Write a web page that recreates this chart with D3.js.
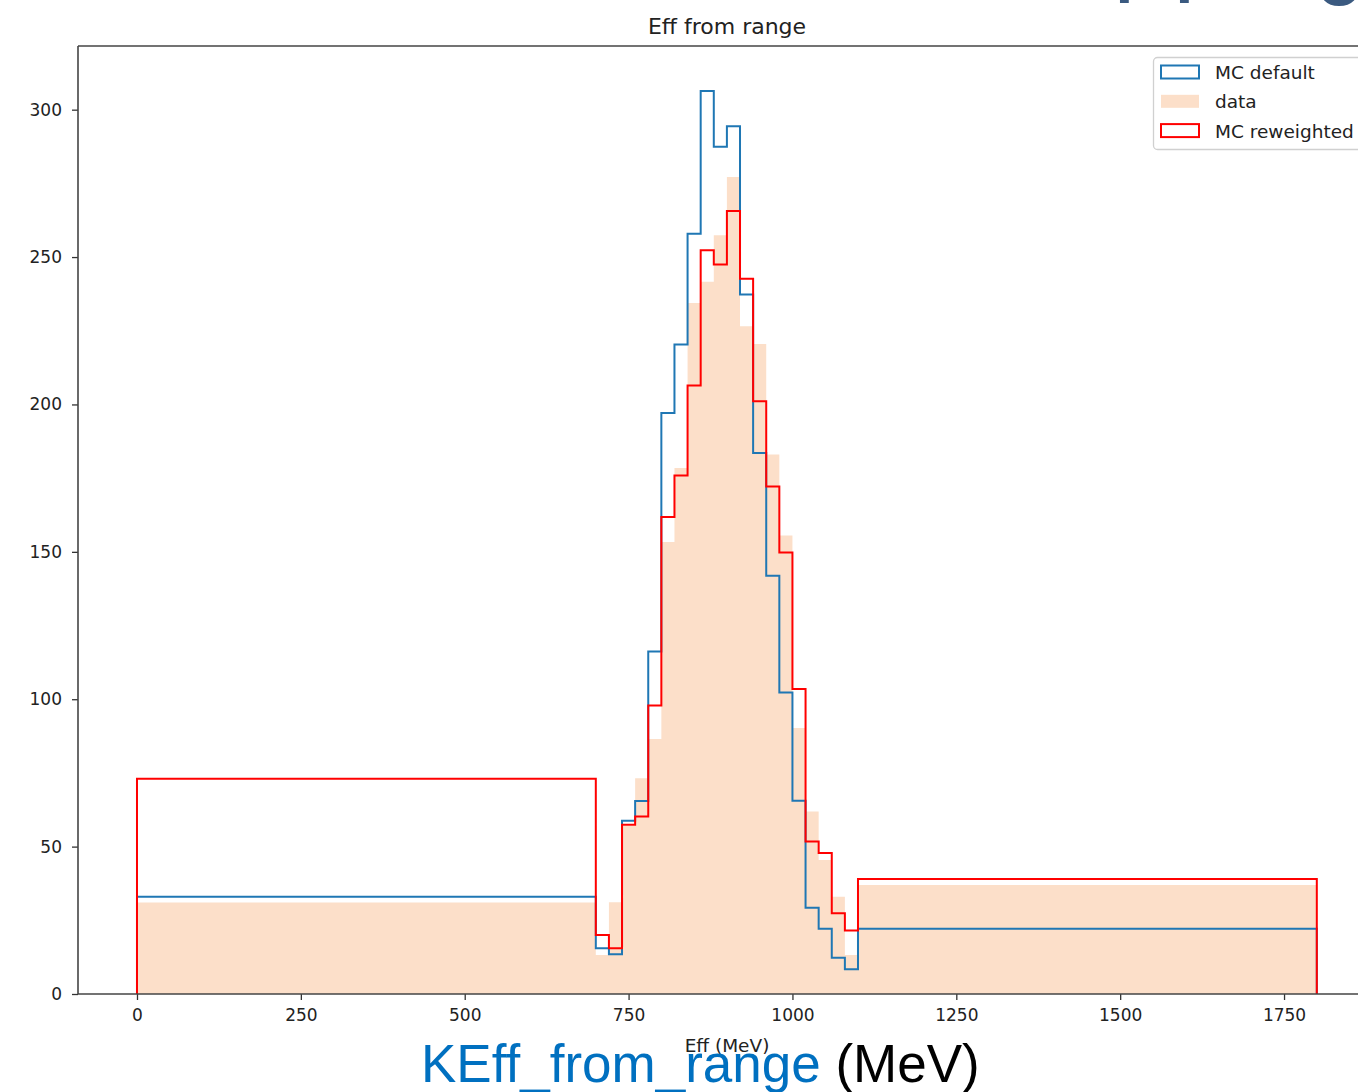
<!DOCTYPE html>
<html>
<head>
<meta charset="utf-8">
<script src="https://cdn.jsdelivr.net/npm/d3@7"></script>
<style>
  html, body { margin: 0; padding: 0; background: #fff; overflow: hidden; }
  svg { display: block; }
</style>
</head>
<body>
<svg id="chart" width="1358" height="1092"></svg>
<script>
// ---- data ----
const binEdges = [0, 700, 720, 740, 760, 780, 800, 820, 840, 860, 880, 900, 920, 940, 960, 980, 1000, 1020, 1040, 1060, 1080, 1100, 1800];
const mcDefault = [33, 15.5, 13.5, 58.8, 65.5, 116.2, 197.1, 220.3, 257.9, 306.3, 287.4, 294.4, 237.3, 183.5, 141.9, 102.3, 65.6, 29.3, 22.1, 12.3, 8.4, 22.1];
const dataCounts = [31, 13.2, 31.1, 57, 73.2, 86.5, 153.3, 178.4, 234.4, 241.6, 257.4, 277.2, 226.5, 220.5, 183, 155.5, 90.2, 61.9, 45.5, 33, 13.2, 37];
const mcReweighted = [73, 20, 15.5, 57.4, 60.2, 97.9, 161.8, 175.9, 206.4, 252.3, 247.5, 265.6, 242.6, 201.1, 172.2, 149.8, 103.5, 51.7, 47.8, 27.4, 21.5, 39];
const xTicks = [0, 250, 500, 750, 1000, 1250, 1500, 1750];
const yTicks = [0, 50, 100, 150, 200, 250, 300];
const legendLabels = ["MC default", "data", "MC reweighted"];
const titleText = "Eff from range";
const xLabelText = "Eff (MeV)";
const overlayBlue = "KEff_from_range";
const overlayBlack = " (MeV)";

(function () {
  const svg = d3.select("#chart");
  const plotLeft = 78, plotTop = 46, plotBottom = 994;
  const xScale = d3.scaleLinear().domain([-90, 1890]).range([plotLeft, plotLeft + 1297.8]);
  const yScale = d3.scaleLinear().domain([0, 321.6]).range([plotBottom, plotTop]);

  const font = "DejaVu Sans, sans-serif";
  const blue = "#1f77b4", red = "#ff0000", peach = "#fcdfc9";

  function stepPoints(values) {
    const pts = [[binEdges[0], 0]];
    values.forEach((v, i) => { pts.push([binEdges[i], v]); pts.push([binEdges[i + 1], v]); });
    pts.push([binEdges[binEdges.length - 1], 0]);
    return pts;
  }

  const g = svg.append("g");
  const area = d3.area().x(d => xScale(d[0])).y0(yScale(0)).y1(d => yScale(d[1]));
  g.append("path").datum(stepPoints(dataCounts)).attr("d", area).attr("fill", peach);

  const line = d3.line().x(d => xScale(d[0])).y(d => yScale(d[1]));
  g.append("path").datum(stepPoints(mcDefault)).attr("d", line)
    .attr("fill", "none").attr("stroke", blue).attr("stroke-width", 2);
  g.append("path").datum(stepPoints(mcReweighted)).attr("d", line)
    .attr("fill", "none").attr("stroke", red).attr("stroke-width", 2);

  const xAxis = svg.append("g").attr("transform", `translate(0,${plotBottom})`)
    .call(d3.axisBottom(xScale).tickValues(xTicks).tickSize(6).tickPadding(9).tickFormat(d3.format("d")));
  const yAxis = svg.append("g").attr("transform", `translate(${plotLeft},0)`)
    .call(d3.axisLeft(yScale).tickValues(yTicks).tickSize(6).tickPadding(10).tickFormat(d3.format("d")));
  [xAxis, yAxis].forEach(a => {
    a.select(".domain").remove();
    a.selectAll(".tick line").attr("stroke", "#333").attr("stroke-width", 1.3);
    a.selectAll(".tick text").attr("fill", "#222").style("font-size", "17px").style("font-family", font);
  });

  const spineColor = "#444", spineW = 1.6;
  svg.append("line").attr("x1", plotLeft).attr("x2", plotLeft).attr("y1", plotTop).attr("y2", plotBottom).attr("stroke", spineColor).attr("stroke-width", spineW);
  svg.append("line").attr("x1", plotLeft).attr("x2", 1376).attr("y1", plotTop).attr("y2", plotTop).attr("stroke", spineColor).attr("stroke-width", spineW);
  svg.append("line").attr("x1", plotLeft).attr("x2", 1376).attr("y1", plotBottom).attr("y2", plotBottom).attr("stroke", spineColor).attr("stroke-width", spineW);

  svg.append("text").attr("x", 727).attr("y", 34).attr("text-anchor", "middle")
    .style("font-family", font).style("font-size", "22px").attr("fill", "#222").text(titleText);

  const lg = svg.append("g");
  lg.append("rect").attr("x", 1153.5).attr("y", 57.5).attr("width", 240).attr("height", 92).attr("rx", 4)
    .attr("fill", "#fff").attr("fill-opacity", 0.8).attr("stroke", "#d0d0d0").attr("stroke-width", 1.3);
  const legendStyles = [
    { fill: "none", stroke: blue },
    { fill: peach, stroke: "none" },
    { fill: "none", stroke: red }
  ];
  legendLabels.forEach((lab, i) => {
    const cy = 72 + i * 29.3;
    lg.append("rect").attr("x", 1161).attr("y", cy - 6.5).attr("width", 38).attr("height", 13)
      .attr("fill", legendStyles[i].fill).attr("stroke", legendStyles[i].stroke).attr("stroke-width", 2);
    lg.append("text").attr("x", 1215).attr("y", cy + 7).style("font-family", font).style("font-size", "18.5px")
      .attr("fill", "#222").text(lab);
  });

  svg.append("text").attr("x", 727).attr("y", 1052).attr("text-anchor", "middle")
    .style("font-family", font).style("font-size", "18.5px").attr("fill", "#222").text(xLabelText);

  const cap = svg.append("text").attr("x", 421).attr("y", 1082)
    .style("font-family", "Liberation Sans, Arial, sans-serif").style("font-size", "53px");
  cap.append("tspan").attr("fill", "#0070c0").text(overlayBlue);
  cap.append("tspan").attr("fill", "#000").text(overlayBlack);

  const headStyle = s => s.style("font-family", "Liberation Sans, Arial, sans-serif").style("font-weight", "bold").attr("fill", "#3b5a80");
  headStyle(svg.append("text").attr("x", 1115.5).attr("y", -10).style("font-size", "64px").text("p"));
  headStyle(svg.append("text").attr("x", 1175.5).attr("y", -10).style("font-size", "64px").text("p"));
  headStyle(svg.append("text").attr("x", 1316).attr("y", 5).style("font-size", "76px").text("o"));
})();
</script>
</body>
</html>
